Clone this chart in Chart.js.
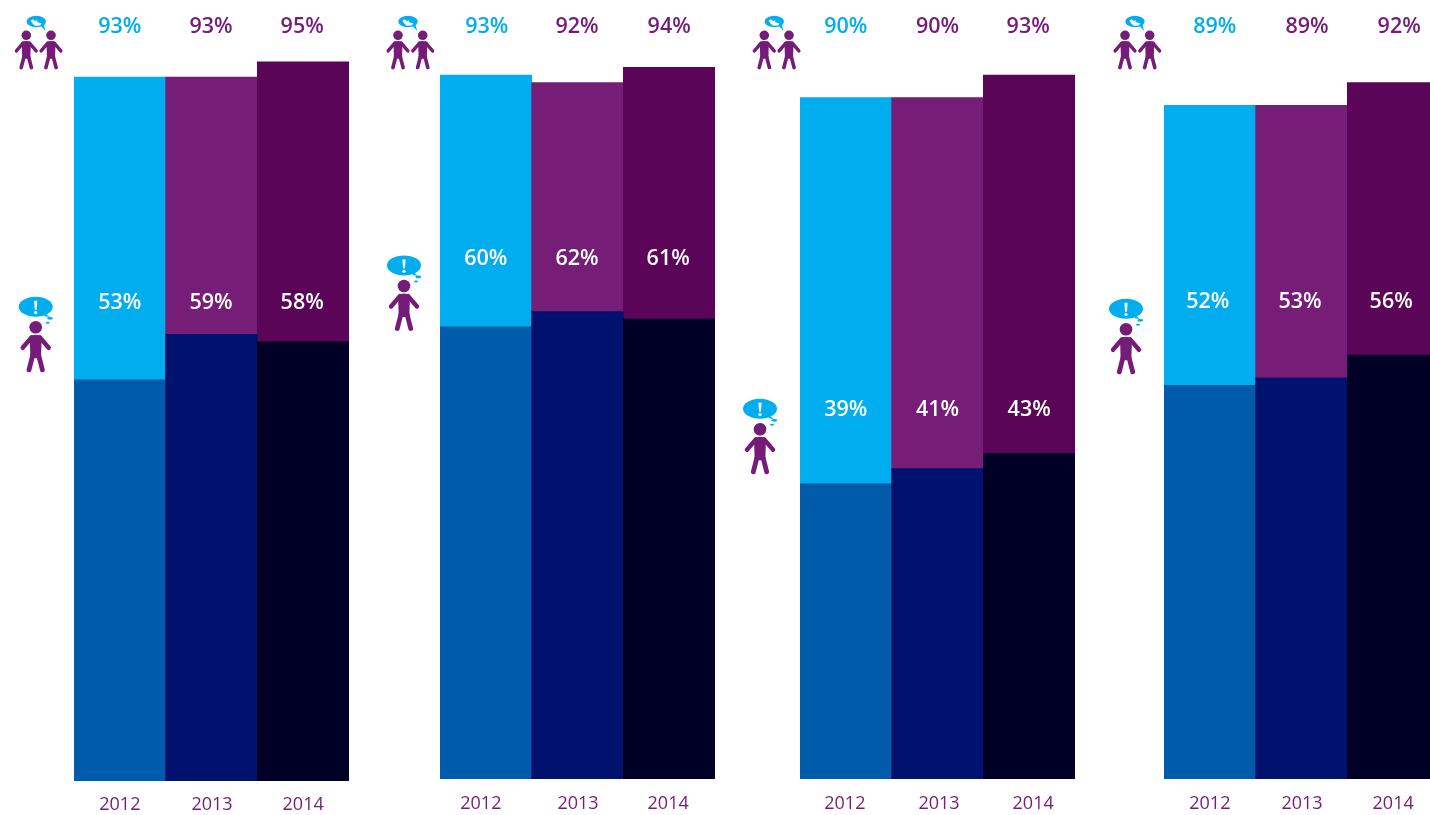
<!DOCTYPE html>
<html>
<head>
<meta charset="utf-8">
<style>
html,body{margin:0;padding:0;background:#fff;width:1430px;height:815px;overflow:hidden}
canvas{position:absolute;top:0}
svg{position:absolute;left:0;top:0}
</style>
<script src="https://cdn.jsdelivr.net/npm/chart.js@4"></script>
</head>
<body>
<svg width="1430" height="815" xmlns="http://www.w3.org/2000/svg" id="icons">
<defs>
<g id="person">
  <circle cx="0" cy="0" r="6.3" fill="#751c79"/>
  <path d="M-6 9Q0 6 6 9L5.3 31H-5.3Z" fill="#751c79"/>
  <path d="M-4 10L-13 20.5M4 10L13 20.5" fill="none" stroke="#751c79" stroke-width="4.4" stroke-linecap="round"/>
  <path d="M-3 28L-6.7 42.5M3 28L6.7 42.5" fill="none" stroke="#751c79" stroke-width="4.8" stroke-linecap="round"/>
</g>
<g id="single">
  <use href="#person"/>
  <ellipse cx="0" cy="-20.6" rx="17" ry="10" fill="#00aeef"/>
  <path d="M7 -16L14 -10L9 -11Z" fill="#00aeef"/>
  <ellipse cx="14.3" cy="-9" rx="3" ry="1.4" fill="#00aeef"/>
  <ellipse cx="12" cy="-4.5" rx="2" ry="1" fill="#00aeef"/>
  <path d="M-1.6 -26.5H1.6L0.9 -17.5H-0.9Z" fill="#fff"/>
  <circle cx="0" cy="-14.7" r="1.6" fill="#fff"/>
</g>
<g id="pair">
  <use href="#person" transform="translate(26.3,35.3) scale(.76)"/>
  <use href="#person" transform="translate(51,35.3) scale(.76)"/>
  <ellipse cx="36.3" cy="21.5" rx="9.7" ry="5.8" fill="#00aeef"/>
  <path d="M40 25L45.5 31L43.5 24Z" fill="#00aeef"/>
  <path d="M30.7 20.5L33 19.3L35 21L37.5 20.3L37 22L41.7 23.5L40 25.5L35 25.7L32.5 23.5Z" fill="#fff"/>
</g>
</defs>
<use href="#pair" x="0" y="0"/>
<use href="#pair" x="371.7" y="0"/>
<use href="#pair" x="738" y="0"/>
<use href="#pair" x="1098.7" y="0"/>
<use href="#single" x="35.7" y="327.3"/>
<use href="#single" x="404" y="286"/>
<use href="#single" x="760" y="429.3"/>
<use href="#single" x="1126" y="329.3"/>
</svg>
<canvas id="c0"></canvas>
<canvas id="c1"></canvas>
<canvas id="c2"></canvas>
<canvas id="c3"></canvas>
<script>
const categories = ['2012', '2013', '2014'];

const totalA = [93, 93, 95];
const totalB = [93, 92, 94];
const totalC = [90, 90, 93];
const totalD = [89, 89, 92];

const partA = [53, 59, 58];
const partB = [60, 62, 61];
const partC = [39, 41, 43];
const partD = [52, 53, 56];

const totals = [totalA, totalB, totalC, totalD];
const parts = [partA, partB, partC, partD];

const lightColors = ['#00aeef', '#761d78', '#5a0558'];
const darkColors = ['#005bab', '#00116e', '#000026'];
const topLabelColors = ['#00aeef', '#751c79', '#751c79'];

const panelLeft = [74, 440, 800, 1164];
const panelWidth = [275, 275, 275, 275];
const panelBase = [781, 779, 779, 779];
const PX_PER_100 = 757;
const partAxisMin = [0, 0.26, 0, 0];
const topLabelY = 27;
const partLabelY = [302.5, 258.5, 410, 302];
const topNudge = [[0, -0.5, -1], [1, -0.5, 0], [0, 0, -1], [5, 5.5, 6]];
const partNudge = [[0, -0.5, -1], [0, -0.5, -1], [0, 0, 0], [-2, -1.5, -2]];
const tickNudge = [[0, 0.5, 0], [-5, 0.5, -1], [-1, 1.5, 4], [0, 0.5, 0]];
const tickPadding = [13, 14, 14, 14];
const FONT = '"Open Sans", sans-serif';

const tickShift = {
  id: 'tickShift',
  beforeDraw(chart, args, opts) {
    const x = chart.scales.x;
    const items = x.getLabelItems();
    if (x._shifted === items) return;
    items.forEach((it, i) => {
      it.options.translation = [it.options.translation[0] + opts.nudge[i], it.options.translation[1]];
    });
    x._shifted = items;
  }
};

const valueLabels = {
  id: 'valueLabels',
  afterDraw(chart, args, opts) {
    const { ctx, scales: { x } } = chart;
    ctx.save();
    ctx.textAlign = 'center';
    ctx.textBaseline = 'middle';
    ctx.font = '600 21.5px ' + FONT;
    categories.forEach((c, i) => {
      const px = x.getPixelForValue(i);
      ctx.fillStyle = topLabelColors[i];
      ctx.fillText(opts.total[i] + '%', px + opts.topNudge[i], topLabelY);
      ctx.fillStyle = '#ffffff';
      ctx.fillText(opts.part[i] + '%', px + opts.partNudge[i], opts.partY);
    });
    ctx.restore();
  }
};

totals.forEach((total, k) => {
  const el = document.getElementById('c' + k);
  el.style.left = panelLeft[k] + 'px';
  el.style.width = panelWidth[k] + 'px';
  el.style.height = '815px';
  el.width = panelWidth[k];
  el.height = 815;
  const base = panelBase[k];
  new Chart(el, {
    type: 'bar',
    data: {
      labels: categories,
      datasets: [
        { data: parts[k], backgroundColor: darkColors, order: 1, yAxisID: 'yPart' },
        { data: total, backgroundColor: lightColors, order: 2, yAxisID: 'y' }
      ]
    },
    options: {
      responsive: false,
      animation: false,
      devicePixelRatio: 1,
      layout: { padding: { top: base - PX_PER_100, left: 0, right: 0, bottom: 0 } },
      datasets: { bar: { grouped: false, barPercentage: 1, categoryPercentage: 1, borderWidth: 0 } },
      plugins: {
        legend: { display: false },
        tooltip: { enabled: false },
        tickShift: { nudge: tickNudge[k] },
        valueLabels: { total, part: parts[k], partY: partLabelY[k], topNudge: topNudge[k], partNudge: partNudge[k] }
      },
      scales: {
        y: { display: false, min: 0, max: 100 },
        yPart: { display: false, min: partAxisMin[k], max: 100 + partAxisMin[k] },
        x: {
          afterFit(s) { s.height = 815 - base; },
          grid: { display: false, drawTicks: false },
          border: { display: false },
          ticks: {
            color: '#751c79',
            padding: tickPadding[k],
            maxRotation: 0,
            font: { family: FONT, size: 18 }
          }
        }
      }
    },
    plugins: [tickShift, valueLabels]
  });
});
</script>
</body>
</html>
